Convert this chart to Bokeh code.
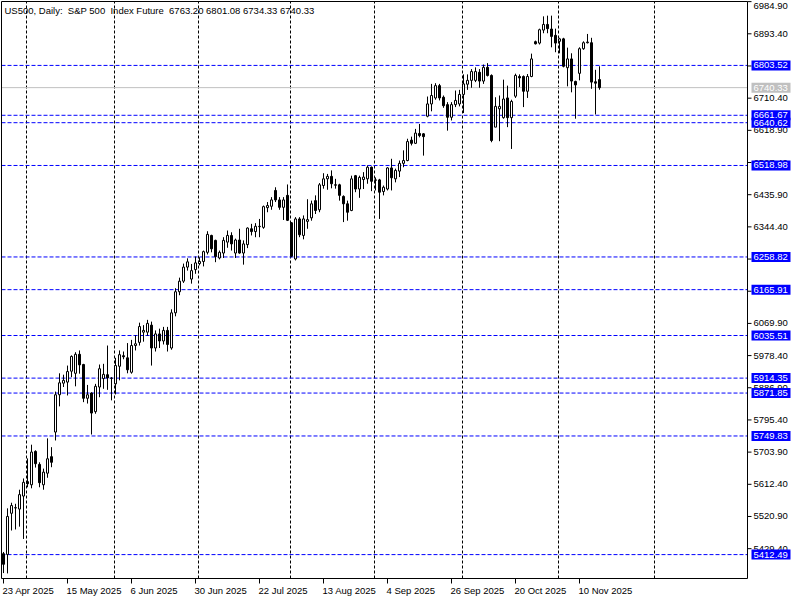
import numpy as np
from bokeh.plotting import figure
from bokeh.models import Range1d, ColumnDataSource
from bokeh.embed import file_html
from bokeh.resources import INLINE
from bokeh.core.properties import value

# ---- data (bar index -> OHLC) ----
opens = [5415, 5413, 5530, 5545, 5542, 5579, 5620, 5611, 5706, 5669,
         5611, 5644, 5691, 5761, 5867, 5900, 5903, 5934, 5928, 5982,
         5953, 5857, 5872, 5819, 5889, 5913, 5924, 5914, 5898, 5948,
         5978, 5972, 5931, 6007, 6016, 6045, 6045, 6065, 6000, 6040,
         6020, 6050, 6000, 6100, 6160, 6190, 6230, 6196, 6223, 6240,
         6246, 6272, 6320, 6306, 6256, 6270, 6301, 6320, 6270, 6307,
         6270, 6294, 6339, 6331, 6345, 6343, 6399, 6403, 6448, 6421,
         6400, 6434, 6356, 6253, 6367, 6320, 6360, 6370, 6419, 6393,
         6462, 6481, 6488, 6464, 6464, 6431, 6410, 6391, 6490, 6452,
         6479, 6481, 6514, 6478, 6478, 6445, 6452, 6512, 6481, 6503,
         6525, 6533, 6591, 6582, 6610, 6609, 6659, 6694, 6711, 6746,
         6713, 6692, 6656, 6692, 6694, 6721, 6750, 6761, 6761, 6784,
         6759, 6798, 6775, 6628, 6680, 6655, 6711, 6655, 6716, 6772,
         6772, 6730, 6772, 6871, 6867, 6904, 6920, 6907, 6889, 6872,
         6879, 6797, 6822, 6758, 6781, 6851, 6868, 6868, 6757, 6763.20]
highs = [5420, 5544, 5560, 5557, 5597, 5629, 5686, 5725, 5709, 5675,
         5657, 5743, 5718, 5876, 5928, 5924, 5950, 5979, 5988, 5993,
         5955, 5895, 5874, 5898, 5953, 5955, 6007, 5917, 5972, 5993,
         5990, 6014, 6023, 6036, 6072, 6065, 6080, 6075, 6050, 6055,
         6060, 6060, 6110, 6170, 6200, 6240, 6255, 6239, 6260, 6258,
         6277, 6332, 6322, 6308, 6277, 6315, 6334, 6329, 6311, 6339,
         6306, 6343, 6353, 6355, 6367, 6405, 6415, 6429, 6457, 6429,
         6429, 6465, 6358, 6372, 6372, 6377, 6423, 6419, 6434, 6469,
         6497, 6495, 6505, 6481, 6467, 6434, 6419, 6490, 6492, 6490,
         6500, 6519, 6516, 6485, 6481, 6462, 6514, 6538, 6510, 6533,
         6562, 6595, 6601, 6623, 6637, 6611, 6715, 6751, 6753, 6751,
         6718, 6699, 6699, 6732, 6734, 6778, 6778, 6793, 6798, 6793,
         6806, 6810, 6778, 6713, 6718, 6763, 6746, 6706, 6780, 6778,
         6775, 6779, 6837, 6874, 6908, 6943, 6945, 6945, 6908, 6882,
         6882, 6854, 6838, 6760, 6855, 6872, 6893, 6882, 6791, 6801.08]
lows = [5360, 5359, 5481, 5484, 5492, 5457, 5604, 5601, 5660, 5604,
        5597, 5631, 5661, 5737, 5834, 5889, 5865, 5917, 5891, 5927,
        5846, 5842, 5754, 5813, 5860, 5884, 5881, 5851, 5868, 5908,
        5968, 5928, 5927, 5993, 6007, 6018, 6035, 5950, 5990, 6000,
        6010, 5990, 5995, 6090, 6150, 6185, 6220, 6183, 6211, 6235,
        6232, 6266, 6272, 6244, 6252, 6256, 6285, 6277, 6256, 6268,
        6237, 6284, 6320, 6315, 6315, 6339, 6386, 6393, 6415, 6393,
        6364, 6361, 6258, 6249, 6315, 6309, 6339, 6362, 6381, 6386,
        6453, 6450, 6454, 6453, 6419, 6358, 6362, 6389, 6443, 6427,
        6452, 6467, 6446, 6448, 6367, 6434, 6448, 6448, 6471, 6486,
        6514, 6531, 6576, 6580, 6599, 6547, 6656, 6673, 6706, 6704,
        6683, 6618, 6647, 6685, 6687, 6668, 6734, 6740, 6756, 6740,
        6751, 6772, 6585, 6628, 6588, 6652, 6628, 6566, 6711, 6742,
        6685, 6711, 6770, 6863, 6863, 6895, 6895, 6855, 6841, 6838,
        6798, 6744, 6727, 6652, 6761, 6848, 6866, 6737, 6664, 6734.33]
closes = [5385, 5521, 5552, 5546, 5583, 5618, 5614, 5704, 5671, 5617,
          5647, 5685, 5675, 5867, 5901, 5908, 5933, 5976, 5982, 5952,
          5857, 5867, 5815, 5891, 5941, 5925, 5915, 5914, 5950, 5981,
          5975, 5938, 6007, 6012, 6061, 6050, 6070, 6000, 6040, 6020,
          6050, 6010, 6100, 6160, 6190, 6230, 6245, 6220, 6242, 6246,
          6274, 6323, 6282, 6260, 6272, 6306, 6320, 6296, 6307, 6270,
          6296, 6341, 6331, 6346, 6346, 6402, 6405, 6421, 6421, 6400,
          6421, 6363, 6261, 6367, 6322, 6367, 6365, 6410, 6391, 6464,
          6481, 6488, 6467, 6463, 6434, 6410, 6386, 6481, 6452, 6485,
          6486, 6514, 6474, 6477, 6443, 6457, 6512, 6484, 6505, 6525,
          6533, 6587, 6582, 6611, 6604, 6601, 6694, 6718, 6746, 6711,
          6689, 6656, 6692, 6704, 6721, 6751, 6761, 6786, 6786, 6759,
          6798, 6775, 6590, 6687, 6687, 6708, 6655, 6701, 6775, 6768,
          6730, 6772, 6822, 6865, 6905, 6920, 6908, 6886, 6867, 6879,
          6801, 6822, 6759, 6748, 6851, 6868, 6870, 6756, 6753, 6740.33]

date_tick_idx = [0, 16, 32, 48, 64, 80, 96, 112, 128, 144]
date_tick_labels = ["23 Apr 2025", "15 May 2025", "6 Jun 2025", "30 Jun 2025",
                    "22 Jul 2025", "13 Aug 2025", "4 Sep 2025", "26 Sep 2025",
                    "20 Oct 2025", "10 Nov 2025"]
month_grid_idx = [6, 28, 49, 72, 93, 115, 139, 163]
price_ticks = [6984.90, 6893.40, 6801.90, 6710.40, 6618.90, 6527.40, 6435.90,
               6344.40, 6252.90, 6161.40, 6069.90, 5978.40, 5886.90, 5795.40,
               5703.90, 5612.40, 5520.90, 5429.40]
level_prices = [6803.52, 6661.67, 6640.62, 6518.98, 6258.82, 6165.91,
                6035.51, 5914.35, 5871.85, 5749.83, 5412.49]
last_price = 6740.33
header = "US500, Daily:\u00a0\u00a0S&P 500\u00a0\u00a0Index Future\u00a0\u00a06763.20 6801.08 6734.33 6740.33"

# ---- layout (pixels) ----
W, H = 800, 600
CW, CH = 746, 577          # chart area size in px
X0 = -0.5                  # visible bars in chart area
X1 = X0 + CW / 4.0         # 4 px per bar
dy = 2.8435                # price units per px
Y1 = 6893.4 + 32.3 * dy
Y0 = Y1 - CH * dy
dx = (X1 - X0) / CW        # data units per px

FONT = "Liberation Sans"
FS = "9.5px"

p = figure(width=W, height=H, output_backend="svg", toolbar_location=None,
           x_range=Range1d(X0 - 1 * dx, X0 + (W - 1) * dx),
           y_range=Range1d(Y1 - (H - 1) * dy, Y1 + 1 * dy),
           x_axis_location=None, y_axis_location=None,
           min_border_left=0, min_border_right=0, min_border_top=0, min_border_bottom=0)
p.background_fill_color = "white"
p.border_fill_color = "white"
p.outline_line_color = None
p.xgrid.visible = False
p.ygrid.visible = False

# vertical month grid (dashed)
gx = [g - 0.25 for g in month_grid_idx]
p.segment(gx, [Y0] * len(gx), gx, [Y1] * len(gx), line_color="black",
          line_dash="3 2", line_width=1)

# horizontal levels (blue dashed) and last price (grey)
p.segment([X0] * len(level_prices), level_prices, [X1] * len(level_prices), level_prices,
          line_color="#0000ff", line_dash="4 2", line_width=1)
p.segment([X0], [last_price], [X1], [last_price], line_color="#c0c0c0", line_width=1)

# candles
o = np.array(opens, dtype=float)
h = np.array(highs, dtype=float)
l = np.array(lows, dtype=float)
c = np.array(closes, dtype=float)
idx = np.arange(len(o))
up = c >= o
p.segment(idx, h, idx, l, line_color="black", line_width=1)
src_up = ColumnDataSource(dict(x=idx[up], top=c[up], bottom=o[up]))
src_dn = ColumnDataSource(dict(x=idx[~up], top=o[~up], bottom=c[~up]))
p.vbar(x="x", top="top", bottom="bottom", width=0.5, source=src_up,
       fill_color="white", line_color="black", line_width=1)
p.vbar(x="x", top="top", bottom="bottom", width=0.5, source=src_dn,
       fill_color="black", line_color="black", line_width=1)

# chart border
p.quad(left=[X0], right=[X1], bottom=[Y0], top=[Y1], fill_color=None,
       line_color="black", line_width=1)

# right price scale: ticks + labels (top label kept inside the canvas)
n = len(price_ticks)
p.segment([X1] * n, price_ticks, [X1 + 4 * dx] * n, price_ticks, line_color="black")
label_y = [min(t, Y1 - 4 * dy) for t in price_ticks]
p.text(x=[X1 + 6 * dx] * n, y=label_y, text=["%.2f" % t for t in price_ticks],
       text_font=value(FONT), text_font_size=value(FS), text_color="black",
       text_align="left", text_baseline="middle")

# level boxes on the price scale
m = len(level_prices)
p.quad(left=[X1 + 4 * dx] * m, right=[X1 + 43 * dx] * m,
       bottom=[lv - 5 * dy for lv in level_prices], top=[lv + 5 * dy for lv in level_prices],
       fill_color="#0000ff", line_color=None)
p.text(x=[X1 + 6 * dx] * m, y=level_prices, text=["%.2f" % lv for lv in level_prices],
       text_font=value(FONT), text_font_size=value(FS), text_color="white",
       text_align="left", text_baseline="middle")
p.quad(left=[X1 + 4 * dx], right=[X1 + 43 * dx], bottom=[last_price - 5 * dy],
       top=[last_price + 5 * dy], fill_color="#c0c0c0", line_color=None)
p.text(x=[X1 + 6 * dx], y=[last_price], text=["%.2f" % last_price],
       text_font=value(FONT), text_font_size=value(FS), text_color="white",
       text_align="left", text_baseline="middle")

# bottom date scale: ticks + labels
k = len(date_tick_idx)
p.segment(date_tick_idx, [Y0] * k, date_tick_idx, [Y0 - 5 * dy] * k, line_color="black")
p.text(x=[t - 1 * dx for t in date_tick_idx], y=[Y0 - 6 * dy] * k, text=date_tick_labels,
       text_font=value(FONT), text_font_size=value(FS), text_color="black",
       text_align="left", text_baseline="top")

# header
p.text(x=[X0 + 3 * dx], y=[Y1 - 3 * dy], text=[header],
       text_font=value(FONT), text_font_size=value(FS), text_color="black",
       text_align="left", text_baseline="top")

open("out.html", "w").write(file_html(p, INLINE))
